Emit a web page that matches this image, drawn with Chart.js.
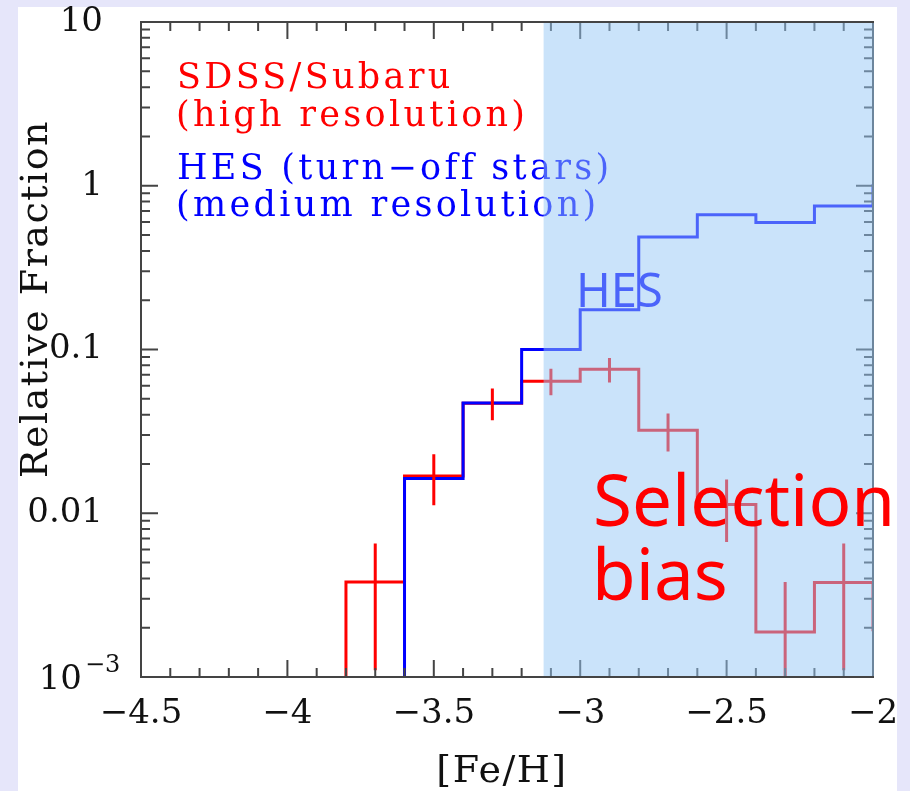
<!DOCTYPE html>
<html>
<head>
<meta charset="utf-8">
<script src="https://cdn.jsdelivr.net/npm/chart.js@4/dist/chart.umd.min.js"></script>
<style>
  html, body { margin: 0; padding: 0; background: #e6e6fa; }
  canvas { display: block; }
</style>
</head>
<body>
<canvas id="mdf" width="910" height="791"></canvas>
<script>
// Metallicity distribution functions: SDSS/Subaru high-resolution sample vs HES turn-off stars.
// Histogram bins are 0.2 dex wide; each entry is the value of the bin starting at binLeft[i].
const binWidth = 0.2;
const binLeft = [-3.8, -3.6, -3.4, -3.2, -3.0, -2.8, -2.6, -2.4, -2.2, -2.0];
const sdssFraction = [0.0038, 0.0169, 0.047, 0.064, 0.0757, 0.0321, 0.0113, 0.00188, 0.00377, 0.0019];
const hesFraction  = [null, 0.0163, 0.0471, 0.0999, 0.175, 0.486, 0.666, 0.596, 0.751, 1.02];

// SDSS/Subaru error bars (bin centres, lower and upper bounds)
const errCenter = [-3.7, -3.5, -3.3, -3.1, -2.9, -2.7, -2.5, -2.3, -2.1];
const errLow    = [0.0011, 0.0112, 0.0370, 0.0525, 0.0628, 0.0238, 0.00668, 0.0005, 0.0011];
const errHigh   = [0.00653, 0.0229, 0.0577, 0.0764, 0.0888, 0.0406, 0.01606, 0.0038, 0.00653];

const xTicks = [-4.5, -4, -3.5, -3, -2.5, -2];
const yTicks = [0.001, 0.01, 0.1, 1, 10];
const yTickLabels = ['10\u207B\u00B3', '0.01', '0.1', '1', '10'];

// [Fe/H] above which the sample suffers from selection bias
const biasFrom = -3.125;

// empty bins sit below the bottom of the log axis
const FLOOR = 1e-4;

const minus = v => (v < 0 ? '\u2212' : '') + Math.abs(v);

function stepPoints(values) {
  const pts = [{ x: binLeft[0] - binWidth, y: FLOOR }];
  binLeft.forEach((x, i) => pts.push({ x, y: values[i] == null ? FLOOR : values[i] }));
  return pts;
}

const errPoints = errCenter.flatMap((x, i) => [
  { x, y: errLow[i] }, { x, y: errHigh[i] }, { x, y: null }
]);

const SERIF = "'DejaVu Serif', 'Liberation Serif', serif";
const SANS = "'Noto Sans', 'Open Sans', sans-serif";

// page panel behind the chart
const panelPlugin = {
  id: 'panel',
  beforeDraw(chart) {
    const { ctx, width, height } = chart;
    ctx.save();
    ctx.fillStyle = '#e6e6fa';
    ctx.fillRect(0, 0, width, height);
    ctx.fillStyle = '#ffffff';
    ctx.fillRect(18, 7, 879, height - 7);
    ctx.restore();
  }
};

// frame with inward ticks, annotations and the shaded selection-bias zone
const framePlugin = {
  id: 'frame',
  afterDatasetsDraw(chart) {
    const { ctx, chartArea: a, scales: { x, y } } = chart;
    ctx.save();
    ctx.strokeStyle = '#444444';
    ctx.lineWidth = 2;
    ctx.strokeRect(a.left, a.top, a.right - a.left, a.bottom - a.top);

    ctx.beginPath();
    for (let k = -45; k <= -20; k++) {
      const px = x.getPixelForValue(k / 10);
      const len = (k % 5 === 0) ? 17 : 9;
      ctx.moveTo(px, a.bottom); ctx.lineTo(px, a.bottom - len);
      ctx.moveTo(px, a.top); ctx.lineTo(px, a.top + len);
    }
    for (let d = -3; d <= 1; d++) {
      for (let m = 1; m <= 9; m++) {
        const v = m * Math.pow(10, d);
        if (v > 10) break;
        const py = y.getPixelForValue(v);
        const len = m === 1 ? 17 : 9;
        ctx.moveTo(a.left, py); ctx.lineTo(a.left + len, py);
        ctx.moveTo(a.right, py); ctx.lineTo(a.right - len, py);
      }
    }
    ctx.stroke();

    // lowest decade label written with a true superscript exponent
    const yLow = y.getPixelForValue(yTicks[0]);
    ctx.fillStyle = '#111';
    ctx.textBaseline = 'alphabetic';
    ctx.textAlign = 'right';
    ctx.font = `34px ${SERIF}`;
    ctx.fillText('10', 82, yLow + 12);
    ctx.textAlign = 'left';
    ctx.font = `24px ${SERIF}`;
    ctx.fillText('\u22123', 85, yLow - 5);

    // axis titles
    ctx.font = `38px ${SERIF}`;
    ctx.letterSpacing = '1.5px';
    ctx.textAlign = 'center';
    ctx.fillText('[Fe/H]', 502, 782);
    ctx.save();
    ctx.translate(47, 299);
    ctx.rotate(-Math.PI / 2);
    ctx.fillText('Relative Fraction', 0, 0);
    ctx.restore();

    // sample descriptions
    ctx.textAlign = 'left';
    ctx.font = `35px ${SERIF}`;
    ctx.letterSpacing = '3.3px';
    ctx.fillStyle = '#ff0000';
    ctx.fillText('SDSS/Subaru', 177, 88);
    ctx.fillText('(high resolution)', 176, 126);
    ctx.fillStyle = '#0000ff';
    ctx.fillText('HES (turn\u2212off stars)', 177, 179);
    ctx.fillText('(medium resolution)', 176, 216);

    ctx.letterSpacing = '0px';
    ctx.font = `47px ${SANS}`;
    ctx.fillText('HES', 576, 307);

    // selection-bias zone
    const x0 = x.getPixelForValue(biasFrom);
    ctx.fillStyle = 'rgba(150, 200, 245, 0.5)';
    ctx.fillRect(x0, a.top + 1, a.right + 1 - x0, a.bottom - a.top - 2);

    ctx.fillStyle = '#ff0000';
    ctx.font = `71px ${SANS}`;
    ctx.fillText('Selection', 593, 526);
    ctx.fillText('bias', 592, 600);
    ctx.restore();
  }
};

new Chart(document.getElementById('mdf'), {
  type: 'line',
  data: {
    datasets: [
      {
        label: 'SDSS/Subaru error',
        data: errPoints,
        borderColor: '#ff0000',
        borderWidth: 3,
        pointRadius: 0,
        spanGaps: false,
        order: 0
      },
      {
        label: 'HES (turn-off stars)',
        data: stepPoints(hesFraction),
        borderColor: '#0000ff',
        borderWidth: 3,
        stepped: true,
        pointRadius: 0,
        order: 1
      },
      {
        label: 'SDSS/Subaru',
        data: stepPoints(sdssFraction),
        borderColor: '#ff0000',
        borderWidth: 3,
        stepped: true,
        pointRadius: 0,
        order: 2
      }
    ]
  },
  options: {
    responsive: false,
    animation: false,
    devicePixelRatio: 1,
    events: [],
    layout: { padding: { top: 22, right: 37, left: 0, bottom: 0 } },
    plugins: { legend: { display: false }, tooltip: { enabled: false } },
    scales: {
      x: {
        type: 'linear',
        min: -4.5,
        max: -2,
        grid: { display: false },
        border: { display: false },
        afterBuildTicks: s => { s.ticks = xTicks.map(v => ({ value: v })); },
        afterFit: s => { s.height = 114; s.paddingLeft = 0; s.paddingRight = 0; },
        ticks: {
          font: { family: SERIF, size: 34 },
          color: '#111',
          padding: 9,
          maxRotation: 0,
          autoSkip: false,
          callback: v => minus(v)
        }
      },
      y: {
        type: 'logarithmic',
        min: 0.001,
        max: 10,
        grid: { display: false },
        border: { display: false },
        afterBuildTicks: s => { s.ticks = yTicks.map(v => ({ value: v })); },
        afterFit: s => { s.width = 141; s.paddingTop = 0; s.paddingBottom = 0; },
        ticks: {
          font: { family: SERIF, size: 34 },
          color: '#111',
          padding: 30,
          autoSkip: false,
          // the lowest decade is lettered with a superscript by the frame plugin
          callback: v => (v === yTicks[0] ? '' : yTickLabels[yTicks.indexOf(v)])
        }
      }
    }
  },
  plugins: [panelPlugin, framePlugin]
});
</script>
</body>
</html>
